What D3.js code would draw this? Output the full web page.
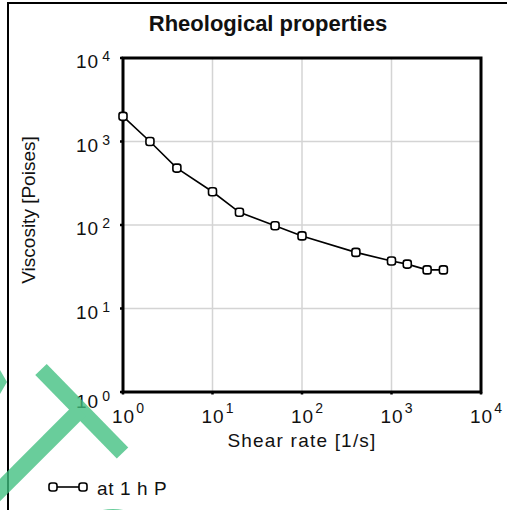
<!DOCTYPE html>
<html>
<head>
<meta charset="utf-8">
<script src="https://cdn.jsdelivr.net/npm/d3@7"></script>
<style>
  body { margin: 0; background: #fff; }
  svg { display: block; font-family: "Liberation Sans", Arial, sans-serif; }
</style>
</head>
<body>
<div id="chart"></div>
<script>
/* data */
var shearRate = [1, 2, 4, 10, 20, 50, 100, 400, 1000, 1500, 2500, 3800];
var viscosity = [2000, 1000, 480, 250, 142, 98, 74, 47, 37, 34, 29, 29];
var decadeExps = [0, 1, 2, 3, 4];
var seriesName = "at 1 h P";

var W = 507, H = 510;
var margin = {left: 123, right: 26, top: 58, bottom: 118};

var svg = d3.select("#chart").append("svg")
  .attr("width", W).attr("height", H);

svg.append("rect").attr("width", W).attr("height", H).attr("fill", "#fff");

// outer frame (cropped at right / bottom)
svg.append("path")
  .attr("d", "M8," + (H + 5) + "V3H" + (W + 5))
  .attr("fill", "none").attr("stroke", "#000").attr("stroke-width", 2);

var x = d3.scaleLog().domain([1, 1e4]).range([margin.left, W - margin.right]);
var y = d3.scaleLog().domain([1, 1e4]).range([H - margin.bottom, margin.top]);

var decades = decadeExps.map(function(e){ return Math.pow(10, e); });

// grid
svg.append("g").selectAll("line.gx").data(decades.slice(1, -1)).enter()
  .append("line")
  .attr("x1", function(d){ return x(d); }).attr("x2", function(d){ return x(d); })
  .attr("y1", y(1)).attr("y2", y(1e4))
  .attr("stroke", "#d4d4d4").attr("stroke-width", 1.5);
svg.append("g").selectAll("line.gy").data(decades.slice(1, -1)).enter()
  .append("line")
  .attr("y1", function(d){ return y(d); }).attr("y2", function(d){ return y(d); })
  .attr("x1", x(1)).attr("x2", x(1e4))
  .attr("stroke", "#d4d4d4").attr("stroke-width", 1.5);

// plot frame
svg.append("rect")
  .attr("x", x(1)).attr("y", y(1e4))
  .attr("width", x(1e4) - x(1)).attr("height", y(1) - y(1e4))
  .attr("fill", "none").attr("stroke", "#000").attr("stroke-width", 3);

// small ticks
svg.append("g").selectAll("line").data(decades).enter().append("line")
  .attr("x1", function(d){ return x(d); }).attr("x2", function(d){ return x(d); })
  .attr("y1", y(1)).attr("y2", y(1) + 2.5)
  .attr("stroke", "#000").attr("stroke-width", 2.5);
svg.append("g").selectAll("line").data(decades).enter().append("line")
  .attr("y1", function(d){ return y(d); }).attr("y2", function(d){ return y(d); })
  .attr("x1", x(1) - 3).attr("x2", x(1))
  .attr("stroke", "#000").attr("stroke-width", 2.5);

// tick labels
var xl = svg.append("g").selectAll("text").data(decadeExps).enter().append("text")
  .attr("x", function(e){ return x(Math.pow(10, e)) - 11; })
  .attr("y", y(1) + 31)
  .attr("font-size", 19).attr("letter-spacing", 1).attr("fill", "#111");
xl.append("tspan").text("10");
xl.append("tspan").attr("dy", -10).attr("dx", 1).attr("font-size", 14)
  .text(function(e){ return e; });

var yl = svg.append("g").selectAll("text").data(decadeExps).enter().append("text")
  .attr("x", 76)
  .attr("y", function(e){ return y(Math.pow(10, e)) + (e === 0 ? 16 : 10); })
  .attr("font-size", 19).attr("letter-spacing", 1).attr("fill", "#111");
yl.append("tspan").text("10");
yl.append("tspan").attr("dy", -7).attr("dx", 3).attr("font-size", 14)
  .text(function(e){ return e; });

// titles
svg.append("text").attr("x", 268).attr("y", 31).attr("text-anchor", "middle")
  .attr("font-size", 22).attr("font-weight", "bold").attr("fill", "#111")
  .text("Rheological properties");
svg.append("text").attr("x", 302).attr("y", 447).attr("text-anchor", "middle")
  .attr("font-size", 19).attr("letter-spacing", 1.2).attr("fill", "#111")
  .text("Shear rate [1/s]");
svg.append("text").attr("transform", "translate(35,210) rotate(-90)")
  .attr("text-anchor", "middle").attr("font-size", 19).attr("fill", "#111")
  .text("Viscosity [Poises]");

// series
var pts = shearRate.map(function(s, i){ return [s, viscosity[i]]; });
var line = d3.line().x(function(d){ return x(d[0]); }).y(function(d){ return y(d[1]); });
svg.append("path").datum(pts).attr("d", line)
  .attr("fill", "none").attr("stroke", "#000").attr("stroke-width", 1.6);
svg.append("g").selectAll("rect").data(pts).enter().append("rect")
  .attr("x", function(d){ return x(d[0]) - 4; })
  .attr("y", function(d){ return y(d[1]) - 4; })
  .attr("width", 8).attr("height", 8).attr("rx", 2.5)
  .attr("fill", "#fff").attr("stroke", "#000").attr("stroke-width", 1.6);

// legend
var lg = svg.append("g").attr("transform", "translate(53,487)");
lg.append("line").attr("x1", 0).attr("x2", 30).attr("stroke", "#000").attr("stroke-width", 1.6);
lg.selectAll("rect").data([0, 30]).enter().append("rect")
  .attr("x", function(d){ return d - 4; }).attr("y", -4)
  .attr("width", 8).attr("height", 8).attr("rx", 2.5)
  .attr("fill", "#fff").attr("stroke", "#000").attr("stroke-width", 1.6);
lg.append("text").attr("x", 44).attr("y", 8).attr("font-size", 19)
  .attr("letter-spacing", 0.6).attr("fill", "#111").text(seriesName);

// green overlay shapes seen over the picture
var ov = svg.append("g").attr("opacity", 0.78);
ov.append("path").attr("d", "M41,369.5L122.5,453")
  .attr("stroke", "#3fbf7f").attr("stroke-width", 16).attr("fill", "none");
ov.append("path").attr("d", "M80,410L-30,520")
  .attr("stroke", "#3fbf7f").attr("stroke-width", 16).attr("fill", "none");
ov.append("path").attr("d", "M0,370L7,382L0,394Z").attr("fill", "#3fbf7f");
ov.append("circle").attr("cx", 113).attr("cy", 557).attr("r", 40)
  .attr("stroke", "#3fbf7f").attr("stroke-width", 16).attr("fill", "none");
</script>
</body>
</html>
